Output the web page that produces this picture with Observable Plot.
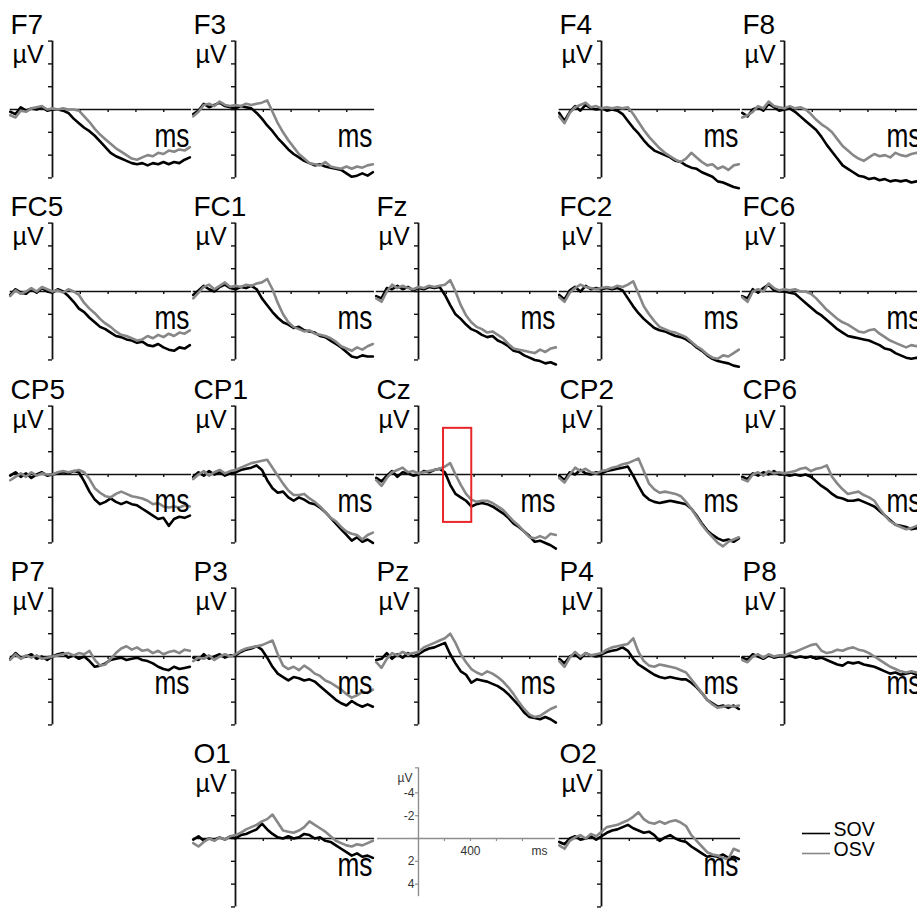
<!DOCTYPE html>
<html><head><meta charset="utf-8">
<script src="https://cdn.jsdelivr.net/npm/d3@7"></script>
<script src="https://cdn.jsdelivr.net/npm/@observablehq/plot@0.6"></script>
<style>
html,body{margin:0;padding:0;background:#fff;}
#chart{position:relative;width:917px;height:911px;overflow:hidden;background:#fff;font-family:"Liberation Sans",Arial,sans-serif;}
.panel{position:absolute;}
.panel svg{max-width:none !important;display:block;}
</style></head>
<body><div id="chart"></div>
<script>
// ---- time points (ms) ----
const times = [-304,-266,-228,-190,-152,-114,-76,-38,0,38,76,114,152,190,228,266,304,342,380,418,456,494,532,570,608,646,684,722,760,798,836,874,912,950,988];
const conditions = ["SOV","OSV"];
const conditionColors = ["#000000","#878787"];
const gridLayout = [
  ["F7","F3",null,"F4","F8"],
  ["FC5","FC1","Fz","FC2","FC6"],
  ["CP5","CP1","Cz","CP2","CP6"],
  ["P7","P3","Pz","P4","P8"],
  [null,"O1",null,"O2",null]
];
const yTicks = [-6,-4,-2,0,2,4,6];
const xTicks = [200,400,600,800];
const yAxisExtent = [-6,6];
const xAxisExtent = [-304,1000];
// highlighted window on Cz
const highlightElectrode = "Cz";
const highlightTime = [180,383];
const highlightVolt = [-4.05,4.2];
// scale (calibration) panel
const scaleYTicks = [-4,-2,0,2,4];
const scaleYLabels = [-4,-2,2,4];
const scaleXTicks = [200,400,600,800];
const scaleXLabels = [400];
const scaleYExtent = [-6.2,5.1];
const scaleXExtent = [-315,1054];

// ---- amplitudes (µV, negative plotted up) ----
const F7_SOV = [0.2,0.4,-0.2,0.1,-0.1,0.0,-0.2,0.1,0.0,0.0,0.1,0.3,0.8,1.2,1.6,1.9,2.3,2.8,3.3,3.8,4.1,4.3,4.5,4.7,4.8,4.7,4.9,4.7,4.8,4.6,4.8,4.6,4.7,4.4,4.2];
const F7_OSV = [0.5,0.7,0.1,0.2,-0.1,-0.2,-0.3,0.0,-0.1,0.0,-0.1,0.0,0.0,0.1,0.6,1.1,1.7,2.2,2.6,3.0,3.4,3.7,4.0,4.3,4.4,4.2,4.0,4.1,3.8,3.9,3.6,3.7,3.5,3.6,3.3];
const F3_SOV = [0.4,0.1,-0.5,-0.2,-0.4,-0.6,-0.3,-0.2,-0.1,-0.3,-0.2,-0.1,0.3,0.8,1.4,1.9,2.5,3.0,3.5,3.9,4.2,4.5,4.7,4.9,4.8,5.0,5.1,5.2,5.3,5.6,5.9,5.8,5.6,5.8,5.5];
const F3_OSV = [0.6,0.2,-0.4,-0.5,-0.3,-0.7,-0.4,-0.3,-0.4,-0.3,-0.5,-0.4,-0.5,-0.6,-0.8,0.2,1.2,2.0,2.7,3.3,3.9,4.3,4.7,4.8,4.9,4.6,5.0,5.1,5.2,5.0,5.2,5.0,5.1,4.9,4.8];
const F4_SOV = [0.3,1.0,0.2,-0.3,0.1,-0.4,-0.1,0.0,-0.1,0.1,0.0,0.1,0.4,1.0,1.6,2.1,2.7,3.2,3.6,3.8,4.0,4.2,4.5,4.6,4.9,5.1,5.2,5.5,5.7,5.9,6.3,6.4,6.6,6.8,6.9];
const F4_OSV = [0.6,1.2,0.3,-0.2,-0.4,-0.6,-0.2,-0.3,-0.1,-0.2,-0.1,-0.2,-0.1,-0.2,0.4,1.1,1.8,2.4,2.9,3.4,3.8,4.1,4.4,4.6,4.3,3.8,4.2,4.6,4.9,4.8,5.2,5.0,5.3,4.9,4.8];
const F8_SOV = [0.3,0.6,0.0,-0.2,0.1,-0.5,-0.2,0.1,0.0,-0.1,0.2,0.6,1.0,1.4,1.8,2.4,3.1,3.7,4.3,4.9,5.2,5.5,5.8,5.9,6.1,6.0,6.2,6.1,6.3,6.2,6.3,6.2,6.4,6.3,6.3];
const F8_OSV = [0.7,0.5,0.2,-0.3,-0.1,-0.7,-0.3,-0.2,-0.1,-0.3,-0.1,-0.2,0.0,0.4,0.9,1.3,1.6,2.0,2.6,3.2,3.6,4.0,4.3,4.5,4.2,3.9,4.1,4.0,4.2,3.8,4.0,4.1,3.9,3.8,3.8];
const FC5_SOV = [0.3,-0.2,0.1,0.2,-0.2,0.1,-0.3,0.0,0.1,-0.2,0.0,0.4,0.9,1.5,1.8,2.3,2.7,3.1,3.3,3.6,3.9,4.0,4.2,4.3,4.5,4.4,4.7,4.8,4.6,4.9,5.1,5.2,4.9,5.0,4.7];
const FC5_OSV = [0.4,-0.1,0.2,0.0,-0.3,0.0,-0.4,-0.2,0.0,-0.1,0.1,-0.2,0.0,0.3,1.0,1.5,1.9,2.4,2.8,3.1,3.5,3.8,3.9,4.1,4.3,4.2,3.9,4.1,3.8,4.0,3.7,3.9,3.6,3.7,3.4];
const FC1_SOV = [0.3,-0.1,-0.5,-0.2,0.0,-0.4,-0.6,-0.3,-0.2,-0.4,-0.3,-0.5,-0.2,0.6,1.2,1.8,2.3,2.7,2.9,3.2,3.1,3.4,3.5,3.6,3.9,4.0,4.3,4.6,4.9,5.3,5.7,5.8,5.6,5.7,5.7];
const FC1_OSV = [0.6,0.1,-0.4,-0.6,-0.2,-0.5,-0.8,-0.4,-0.5,-0.4,-0.6,-0.5,-0.7,-0.8,-1.1,-0.2,1.0,2.0,2.7,3.1,3.3,3.5,3.4,3.7,3.8,3.9,4.1,4.4,4.8,5.0,5.2,4.9,5.1,4.8,4.6];
const Fz_SOV = [0.4,0.6,-0.3,-0.2,-0.5,-0.2,-0.4,-0.1,-0.3,-0.2,-0.4,-0.3,-0.4,0.3,1.2,2.0,2.4,2.9,3.3,3.5,3.8,4.0,3.9,4.3,4.5,4.8,5.2,5.3,5.6,5.8,6.0,6.1,6.3,6.2,6.4];
const Fz_OSV = [0.6,0.9,0.0,-0.6,-0.3,-0.5,-0.3,-0.2,-0.4,-0.3,-0.5,-0.4,-0.5,-0.6,-1.0,0.0,1.2,2.1,2.7,3.1,3.3,3.6,3.5,3.8,4.1,4.6,5.0,5.1,5.2,5.3,5.4,5.1,5.3,5.0,4.9];
const FC2_SOV = [0.3,0.7,-0.1,-0.4,0.0,-0.5,-0.2,-0.3,-0.2,-0.3,-0.2,-0.3,-0.1,0.6,1.3,1.9,2.4,2.8,3.2,3.4,3.5,3.7,3.9,4.0,4.2,4.5,4.9,5.2,5.6,5.9,6.1,6.2,6.3,6.5,6.6];
const FC2_OSV = [0.5,0.9,0.1,-0.3,-0.6,-0.4,-0.3,-0.2,-0.3,-0.4,-0.3,-0.5,-0.4,-0.6,-0.9,0.2,1.3,2.0,2.6,3.1,3.3,3.5,3.6,3.8,4.0,4.4,4.8,5.1,5.5,5.8,5.9,5.6,5.7,5.4,5.1];
const FC6_SOV = [0.4,0.6,-0.2,0.1,-0.3,-0.6,-0.1,0.0,0.0,0.1,0.2,0.6,1.0,1.4,1.8,2.1,2.5,2.9,3.3,3.6,3.9,4.0,4.1,4.2,4.3,4.5,4.7,5.0,5.1,5.4,5.6,5.8,5.9,5.8,6.0];
const FC6_OSV = [0.5,0.9,0.0,-0.2,0.0,-0.7,-0.3,-0.1,-0.2,-0.1,-0.2,0.0,0.0,0.2,0.6,1.1,1.6,2.0,2.4,2.7,2.9,3.2,3.5,3.6,3.4,3.3,3.7,4.0,4.3,4.5,4.7,4.9,4.7,4.8,4.5];
const CP5_SOV = [0.1,-0.2,0.2,-0.1,0.3,0.0,-0.2,0.1,0.0,-0.1,-0.2,-0.1,-0.3,-0.2,0.6,1.5,2.2,2.6,2.4,2.1,2.4,2.6,2.4,2.6,2.7,3.0,3.3,3.6,3.9,3.8,4.5,3.9,3.7,3.8,3.6];
const CP5_OSV = [0.5,0.2,-0.1,0.2,-0.2,0.1,-0.1,0.0,0.0,-0.2,-0.3,-0.2,-0.3,-0.4,-0.2,0.4,1.2,1.6,1.9,2.0,1.7,1.5,1.7,1.9,2.0,2.1,2.3,2.6,2.5,2.8,2.9,2.8,2.9,2.7,2.8];
const CP1_SOV = [0.2,-0.2,0.1,-0.3,0.0,-0.2,0.1,-0.1,-0.2,-0.4,-0.5,-0.6,-0.8,-0.4,0.5,1.2,1.6,1.5,2.0,2.3,2.0,2.2,2.5,2.6,2.9,3.3,3.8,4.3,4.8,5.3,5.8,5.5,5.9,5.7,6.0];
const CP1_OSV = [0.4,0.0,-0.3,0.1,-0.2,-0.4,-0.1,-0.3,-0.4,-0.6,-0.8,-1.0,-1.1,-1.2,-1.3,-0.6,0.1,0.8,1.4,1.8,1.8,1.7,2.1,2.4,2.8,3.3,3.8,4.1,4.6,5.0,5.2,5.3,5.7,5.3,5.1];
const Cz_SOV = [0.3,0.6,0.1,-0.3,0.2,-0.2,-0.1,0.1,0.0,-0.3,-0.2,-0.4,-0.5,-0.2,0.9,1.7,2.0,2.3,2.8,2.6,2.5,2.6,2.8,3.1,3.4,3.8,4.3,4.6,5.0,5.4,5.9,5.8,6.0,6.2,6.5];
const Cz_OSV = [0.5,1.0,0.3,-0.2,-0.4,-0.6,-0.2,-0.3,-0.1,-0.2,-0.3,-0.4,-0.5,-0.7,-1.0,0.0,0.9,1.7,2.2,2.4,2.3,2.3,2.5,2.8,3.1,3.6,4.1,4.5,5.0,5.5,5.6,5.4,5.6,5.2,5.3];
const CP2_SOV = [0.1,0.5,-0.2,0.0,-0.4,-0.1,0.0,-0.2,-0.1,-0.3,-0.4,-0.5,-0.6,-0.7,0.1,1.0,1.8,2.2,2.4,2.5,2.4,2.3,2.4,2.5,2.6,3.0,3.6,4.3,4.9,5.3,5.6,5.8,5.7,5.9,5.6];
const CP2_OSV = [0.3,0.7,0.0,-0.6,-0.3,-0.5,-0.2,-0.1,-0.3,-0.4,-0.6,-0.7,-0.9,-1.0,-1.2,-1.4,-0.3,0.8,1.3,1.6,1.5,1.6,1.7,1.9,2.4,3.0,3.7,4.4,5.0,5.5,6.0,6.3,5.9,5.7,5.5];
const CP6_SOV = [0.2,0.4,-0.1,0.1,-0.2,0.0,-0.3,0.0,0.0,0.1,0.0,0.1,0.0,0.2,0.6,1.0,1.3,1.7,2.0,2.1,2.3,2.3,2.2,2.4,2.6,2.8,3.2,3.6,4.0,4.4,4.5,4.6,4.8,4.7,4.9];
const CP6_OSV = [0.4,0.6,0.0,-0.2,0.1,-0.3,-0.1,-0.2,-0.1,-0.2,-0.3,-0.5,-0.6,-0.3,-0.5,-0.6,-0.8,0.2,0.8,1.3,1.7,1.6,1.5,1.8,2.0,2.3,3.0,3.6,4.1,4.4,4.6,4.8,4.7,4.5,4.4];
const P7_SOV = [0.2,-0.3,0.1,0.0,-0.2,0.2,0.0,0.3,0.0,-0.2,-0.3,0.1,-0.1,0.2,0.0,0.4,0.9,0.8,0.6,0.3,0.2,0.1,0.3,0.2,0.1,0.3,0.4,0.6,0.9,1.1,1.2,0.9,1.1,1.0,0.9];
const P7_OSV = [0.3,-0.2,0.2,-0.1,0.1,-0.1,0.2,0.1,0.0,-0.1,-0.2,-0.3,-0.1,-0.3,-0.2,-0.5,0.3,0.8,0.7,0.2,-0.3,-0.7,-0.9,-0.6,-0.8,-0.5,-0.6,-0.3,-0.5,-0.2,-0.4,-0.5,-0.3,-0.6,-0.5];
const P3_SOV = [0.1,0.3,-0.2,0.2,0.0,-0.2,0.1,-0.1,-0.1,-0.4,-0.6,-0.7,-0.9,-0.6,0.1,0.9,1.5,1.8,2.1,1.8,1.9,2.1,2.0,2.2,2.6,3.0,3.4,3.8,4.1,4.3,3.9,4.2,4.4,4.2,4.4];
const P3_OSV = [0.4,0.1,0.2,-0.1,0.3,0.0,-0.2,0.0,-0.2,-0.5,-0.7,-0.8,-0.9,-1.0,-1.2,-1.4,-0.2,0.8,1.1,0.9,1.2,0.8,1.1,1.5,1.7,2.1,2.3,2.6,2.9,3.3,3.6,3.4,3.1,3.2,2.9];
const Pz_SOV = [0.3,0.2,-0.3,0.2,-0.2,0.1,-0.3,0.0,-0.2,-0.5,-0.7,-0.8,-1.0,-1.2,-0.2,0.6,1.3,1.6,2.3,2.0,2.1,2.2,2.4,2.6,2.9,3.3,3.8,4.3,4.9,5.3,5.4,5.5,5.3,5.5,5.8];
const Pz_OSV = [0.5,1.0,0.2,-0.3,-0.1,-0.4,-0.2,-0.3,-0.4,-0.8,-1.0,-1.2,-1.4,-1.6,-2.0,-1.2,-0.2,0.5,1.1,1.4,1.6,1.3,1.5,1.8,2.2,2.7,3.3,4.0,4.6,5.1,5.3,5.2,4.9,4.6,4.4];
const P4_SOV = [0.2,0.6,0.0,-0.2,0.2,-0.3,-0.1,0.0,-0.2,-0.4,-0.5,-0.6,-0.8,-0.5,0.2,0.7,1.0,1.3,1.6,1.8,1.9,1.8,1.9,2.0,2.0,2.3,2.7,3.2,3.8,4.1,4.4,4.3,4.5,4.3,4.6];
const P4_OSV = [0.4,0.9,0.1,-0.4,0.0,-0.3,-0.1,-0.2,-0.3,-0.6,-0.8,-0.9,-1.0,-1.1,-1.6,-0.4,0.4,0.8,0.9,0.7,0.8,0.9,1.0,1.2,1.4,2.0,2.6,3.2,3.8,4.2,4.5,4.4,4.3,4.4,4.3];
const P8_SOV = [0.1,0.3,-0.2,0.0,0.2,-0.1,0.1,0.0,0.0,-0.1,0.1,0.0,0.1,0.0,0.2,0.1,0.3,0.5,0.7,0.8,0.5,0.6,0.5,0.7,0.8,0.9,1.1,1.3,1.5,1.4,1.6,1.5,1.4,1.6,1.5];
const P8_OSV = [0.3,0.5,0.0,-0.2,0.1,-0.2,0.0,-0.1,-0.1,-0.3,-0.4,-0.6,-0.8,-1.0,-1.1,-0.5,-0.3,-0.4,-0.6,-0.5,-0.7,-0.8,-0.6,-0.5,-0.3,0.0,0.3,0.6,0.9,1.1,1.3,1.4,1.3,1.4,1.3];
const O1_SOV = [0.1,-0.2,0.2,0.0,0.1,-0.1,0.1,-0.2,0.0,-0.3,-0.4,-0.6,-0.8,-1.3,-0.8,-0.4,-0.1,0.0,-0.2,0.0,-0.1,-0.4,-0.3,0.0,-0.1,0.2,0.3,0.6,0.9,1.2,1.5,1.3,1.6,1.5,1.7];
const O1_OSV = [0.4,0.7,0.3,0.0,0.2,-0.1,0.1,-0.2,-0.3,-0.5,-0.8,-1.0,-1.2,-1.5,-1.7,-2.1,-1.4,-0.7,-0.6,-0.5,-0.7,-1.0,-1.5,-1.2,-0.9,-0.6,-0.2,0.2,0.4,0.6,0.7,0.5,0.6,0.4,0.2];
const O2_SOV = [0.3,0.5,0.0,-0.2,0.1,0.0,-0.2,0.1,-0.2,-0.5,-0.7,-0.8,-1.0,-1.2,-0.9,-0.7,-0.5,-0.6,-0.3,0.2,-0.1,-0.3,0.0,0.2,0.3,0.7,1.0,1.3,1.6,1.5,1.6,1.4,1.7,1.6,1.8];
const O2_OSV = [0.6,0.9,0.2,-0.1,-0.3,0.0,-0.4,-0.2,-0.6,-1.0,-1.1,-1.2,-1.4,-1.6,-1.9,-2.3,-1.7,-1.4,-1.3,-1.5,-1.3,-1.5,-1.6,-1.4,-1.1,-0.3,0.2,0.7,1.2,1.4,1.5,1.7,1.8,0.9,1.1];

const seriesTable = {
  F7:[F7_SOV,F7_OSV], F3:[F3_SOV,F3_OSV], F4:[F4_SOV,F4_OSV], F8:[F8_SOV,F8_OSV],
  FC5:[FC5_SOV,FC5_OSV], FC1:[FC1_SOV,FC1_OSV], Fz:[Fz_SOV,Fz_OSV], FC2:[FC2_SOV,FC2_OSV], FC6:[FC6_SOV,FC6_OSV],
  CP5:[CP5_SOV,CP5_OSV], CP1:[CP1_SOV,CP1_OSV], Cz:[Cz_SOV,Cz_OSV], CP2:[CP2_SOV,CP2_OSV], CP6:[CP6_SOV,CP6_OSV],
  P7:[P7_SOV,P7_OSV], P3:[P3_SOV,P3_OSV], Pz:[Pz_SOV,Pz_OSV], P4:[P4_SOV,P4_OSV], P8:[P8_SOV,P8_OSV],
  O1:[O1_SOV,O1_OSV], O2:[O2_SOV,O2_OSV]
};

// ---- layout ----
const PANEL_W = 183, PANEL_H = 182, ROW_STEP = 182.25, LEFT0 = 10;
const xDomain = [-302, 1014];
const yDomain = [-9.56, 6.40];
const scaleXDomain = [-323, 1085];
const FONT = "Liberation Sans, Arial, Helvetica, sans-serif";
const chart = document.getElementById("chart");

function place(node, row, col) {
  const div = document.createElement("div");
  div.className = "panel";
  div.style.left = (LEFT0 + col * PANEL_W) + "px";
  div.style.top = (row * ROW_STEP) + "px";
  div.style.width = PANEL_W + "px";
  div.style.height = PANEL_H + "px";
  div.appendChild(node);
  chart.appendChild(div);
}

const svgStyle = {background: "transparent", overflow: "visible", fontFamily: FONT, maxWidth: "none"};

function electrodePanel(name) {
  const [sov, osv] = seriesTable[name];
  const rows = [];
  times.forEach((t, i) => rows.push({t, v: sov[i], cond: "SOV"}));
  times.forEach((t, i) => rows.push({t, v: osv[i], cond: "OSV"}));
  const marks = [
    Plot.ruleY([0], {x1: xAxisExtent[0], x2: xAxisExtent[1], stroke: "#111", strokeWidth: 1.6}),
    Plot.ruleX([0], {y1: yAxisExtent[0], y2: yAxisExtent[1], stroke: "#111", strokeWidth: 1.8}),
    Plot.ruleY(yTicks, {x1: 0, x2: 0, insetLeft: -4, stroke: "#111", strokeWidth: 1.4}),
    Plot.ruleX(xTicks, {y1: 0, y2: 0, insetBottom: -3, stroke: "#111", strokeWidth: 1.4}),
    Plot.line(rows, {x: "t", y: "v", z: "cond", stroke: "cond", strokeWidth: 2.6, strokeLinejoin: "round", strokeLinecap: "round"}),
    Plot.text([name], {text: d => d, frameAnchor: "top-left", textAnchor: "start", lineAnchor: "bottom", dx: 0, dy: 33, fontSize: 28, fill: "#000"}),
    Plot.text(["µV"], {text: d => d, frameAnchor: "top-left", textAnchor: "start", lineAnchor: "bottom", dx: 2, dy: 62, fontSize: 25, fill: "#000"}),
    Plot.text(["ms"], {text: d => d, frameAnchor: "top-left", textAnchor: "end", lineAnchor: "bottom", dx: 179, dy: 146, fontSize: 34, fill: "#000"})
  ];
  if (name === highlightElectrode) {
    marks.push(Plot.rect([{t1: highlightTime[0], t2: highlightTime[1], v1: highlightVolt[0], v2: highlightVolt[1]}],
      {x1: "t1", x2: "t2", y1: "v1", y2: "v2", fill: "none", stroke: "#e8262a", strokeWidth: 2}));
  }
  const svg = Plot.plot({
    width: PANEL_W, height: PANEL_H,
    marginTop: 0, marginRight: 0, marginBottom: 0, marginLeft: 0,
    x: {domain: xDomain, axis: null},
    y: {domain: yDomain, reverse: true, axis: null},
    color: {domain: conditions, range: conditionColors},
    style: svgStyle,
    marks
  });
  svg.querySelectorAll("text").forEach(t => {
    if (t.textContent === "ms") {
      t.setAttribute("textLength", "35");
      t.setAttribute("lengthAdjust", "spacingAndGlyphs");
    }
  });
  return svg;
}

function scalePanel() {
  const grey = "#8e8e8e";
  return Plot.plot({
    width: PANEL_W, height: PANEL_H,
    marginTop: 0, marginRight: 0, marginBottom: 0, marginLeft: 0,
    x: {domain: scaleXDomain, axis: null},
    y: {domain: yDomain, reverse: true, axis: null},
    style: svgStyle,
    marks: [
      Plot.ruleY([0], {x1: scaleXExtent[0], x2: scaleXExtent[1], stroke: grey, strokeWidth: 1.4}),
      Plot.ruleX([0], {y1: scaleYExtent[0], y2: scaleYExtent[1], stroke: grey, strokeWidth: 1.4}),
      Plot.ruleY([scaleYExtent[0]], {x1: 0, x2: 0, insetLeft: -3, stroke: grey, strokeWidth: 1.2}),
      Plot.ruleY(scaleYTicks, {x1: 0, x2: 0, insetLeft: -3, stroke: grey, strokeWidth: 1.2}),
      Plot.ruleX(scaleXTicks, {y1: 0, y2: 0, insetBottom: -3, stroke: grey, strokeWidth: 1.2}),
      Plot.text(scaleYLabels, {x: 0, y: d => d, text: d => String(d), textAnchor: "end", dx: -4, fontSize: 12, fill: "#333"}),
      Plot.text(scaleXLabels, {x: d => d, y: 0, text: d => String(d), lineAnchor: "bottom", dy: 16, fontSize: 12, fill: "#333"}),
      Plot.text(["µV"], {text: d => d, frameAnchor: "top-left", textAnchor: "start", lineAnchor: "bottom", dx: 21, dy: 52, fontSize: 12, fill: "#333"}),
      Plot.text(["ms"], {text: d => d, frameAnchor: "top-left", textAnchor: "end", lineAnchor: "bottom", dx: 171, dy: 125, fontSize: 12, fill: "#333"})
    ]
  });
}

function legendPanel() {
  const svg = Plot.plot({
    width: 115, height: 44,
    marginTop: 0, marginRight: 0, marginBottom: 0, marginLeft: 0,
    x: {domain: [0, 1], range: [2, 30], axis: null},
    y: {type: "point", domain: conditions, range: [11, 31], padding: 0, axis: null},
    color: {domain: conditions, range: conditionColors},
    style: svgStyle,
    marks: [
      Plot.ruleY(conditions, {y: d => d, x1: 0, x2: 1, stroke: d => d, strokeWidth: 1.6}),
      Plot.text(conditions, {x: 1, y: d => d, text: d => d, textAnchor: "start", lineAnchor: "bottom", dx: 3, dy: 2, fontSize: 19.5, fill: "#000"})
    ]
  });
  const div = document.createElement("div");
  div.className = "panel";
  div.style.left = "800px";
  div.style.top = "822px";
  div.appendChild(svg);
  chart.appendChild(div);
}

gridLayout.forEach((row, r) => row.forEach((name, c) => {
  if (name) place(electrodePanel(name), r, c);
}));
place(scalePanel(), 4, 2);
legendPanel();
</script>
</body></html>
